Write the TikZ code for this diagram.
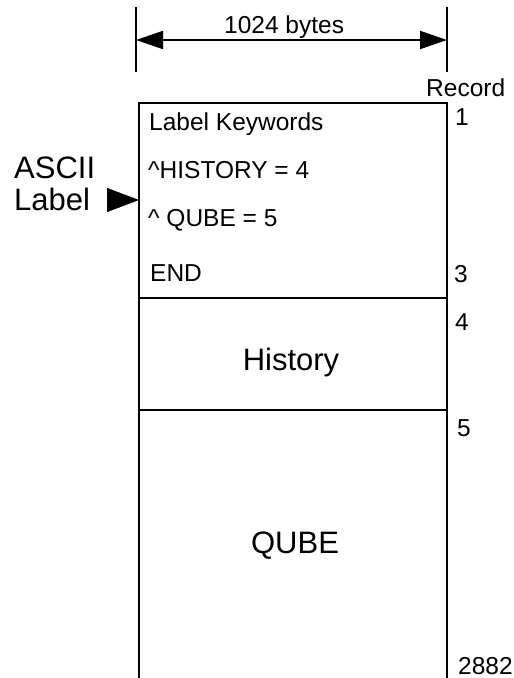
\documentclass[tikz,border=0pt]{standalone}
\usepackage{fontspec}
\setmainfont{Liberation Sans}
\usetikzlibrary{arrows.meta}
\tikzset{
  small/.style={font=\fontsize{24.5}{28}\selectfont, inner sep=0pt, anchor=base west},
  big/.style={font=\fontsize{31}{34}\selectfont, inner sep=0pt, anchor=base},
  rule/.style={line width=1.7pt},
  dimarrow/.style={line width=1.7pt, {Triangle[length=27pt,width=18pt]}-{Triangle[length=27pt,width=18pt]}},
  pointer/.style={-{Triangle[length=32pt,width=24pt]}}
}
\begin{document}
\begin{tikzpicture}[x=1pt,y=-1pt]
\useasboundingbox (0,0) rectangle (514,678);
% dimension
\coordinate (tl1) at (136,7); \coordinate (tl2) at (136,72);
\coordinate (tr1) at (447,7); \coordinate (tr2) at (447,72);
\coordinate (dl) at (136,40); \coordinate (dr) at (447,40);
\draw[rule] (tl1) -- (tl2);
\draw[rule] (tr1) -- (tr2);
\draw[dimarrow] (dl) -- (dr);
\node[small] (bytes) at (224,33) {1024 bytes};
% box
\coordinate (bl) at (139,678); \coordinate (tl) at (139,103);
\coordinate (tr) at (447,103); \coordinate (br) at (447,678);
\draw[rule] (bl) -- (tl) -- (tr) -- (br);
\coordinate (d1l) at (139,298); \coordinate (d1r) at (447,298);
\coordinate (d2l) at (139,410); \coordinate (d2r) at (447,410);
\draw[rule] (d1l) -- (d1r);
\draw[rule] (d2l) -- (d2r);
% label texts
\node[small] (kw) at (149,130) {Label Keywords};
\node[small] (hist) at (148,178) {\^{}HISTORY = 4};
\node[small] (qube) at (148,226) {\^{} QUBE = 5};
\node[small] (endk) at (150,281) {END};
\node[big] (history) at (291,370) {History};
\node[big] (qubebig) at (295,553) {QUBE};
% record numbers
\node[small] (record) at (426,96) {Record};
\node[small] (r1) at (455,125) {1};
\node[small] (r3) at (454,282) {3};
\node[small] (r4) at (455,330) {4};
\node[small] (r5) at (457,436) {5};
\node[small] (r2882) at (458,674) {2882};
% ascii label
\node[big, anchor=base west] (ascii) at (14,178) {ASCII};
\node[big, anchor=base west] (label) at (14,210) {Label};
\coordinate (pstart) at (107,200);
\coordinate (ptip) at (139,200);
\draw[pointer] (pstart) -- (ptip);
\end{tikzpicture}
\end{document}
